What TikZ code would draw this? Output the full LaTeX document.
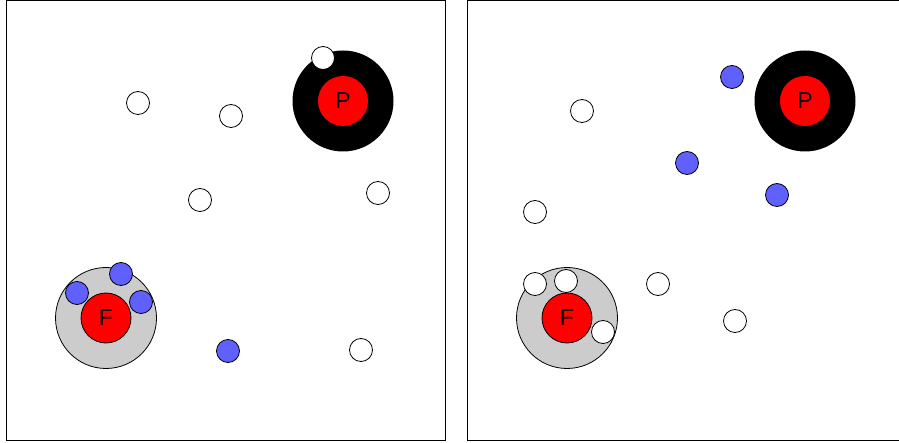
\documentclass[tikz,border=0pt]{standalone}
\usepackage{fontspec}
\setmainfont{Liberation Sans}
\definecolor{bluep}{HTML}{6060FF}
\definecolor{greyp}{HTML}{CCCCCC}
\begin{document}
\begin{tikzpicture}[x=1pt,y=-1pt,
  panel/.style={draw=black,line width=1pt,fill=white},
  wpart/.style={circle,draw=black,line width=0.8pt,fill=white,minimum size=23pt,inner sep=0pt},
  bpart/.style={circle,draw=black,line width=0.8pt,fill=bluep,minimum size=23pt,inner sep=0pt},
  pring/.style={circle,fill=black,minimum size=101pt,inner sep=0pt},
  fring/.style={circle,draw=black,line width=0.8pt,fill=greyp,minimum size=101pt,inner sep=0pt},
  core/.style={circle,fill=red,minimum size=50pt,inner sep=0pt,font=\fontsize{23}{23}\selectfont},
  fcore/.style={core,draw=black,line width=0.8pt}]
\useasboundingbox (0,0) rectangle (899,443);
\clip (0,0) rectangle (899,443);
\fill[white] (0,0) rectangle (899,443);
% panels
\node[panel,rectangle,minimum width=439pt,minimum height=439pt,inner sep=0pt,anchor=north west] (panelA) at (5.5,0.5) {};
\node[panel,rectangle,minimum width=445pt,minimum height=439pt,inner sep=0pt,anchor=north west] (panelB) at (467,0.5) {};
% ---------- left panel ----------
\node[pring] (pA) at (343,101) {};
\node[core] (pAc) at (343,101) {P};
\node[wpart] (wA0) at (323,58) {};
\node[wpart] (wA1) at (138,103) {};
\node[wpart] (wA2) at (231,116) {};
\node[wpart] (wA3) at (200,200) {};
\node[wpart] (wA4) at (378,193) {};
\node[wpart] (wA5) at (361,350) {};
\node[fring] (fA) at (106,318) {};
\node[fcore] (fAc) at (106,318) {F};
\node[bpart] (bA1) at (77,293) {};
\node[bpart] (bA2) at (121,274) {};
\node[bpart] (bA3) at (141,302) {};
\node[bpart] (bA4) at (228,351) {};
% ---------- right panel ----------
\node[pring] (pB) at (805,101) {};
\node[core] (pBc) at (805,101) {P};
\node[bpart] (bB1) at (732,77) {};
\node[bpart] (bB2) at (687,163) {};
\node[bpart] (bB3) at (777,195) {};
\node[wpart] (wB1) at (582,111) {};
\node[wpart] (wB2) at (535,212) {};
\node[wpart] (wB3) at (658,284) {};
\node[wpart] (wB4) at (735,321) {};
\node[fring] (fB) at (567,318) {};
\node[fcore] (fBc) at (567,318) {F};
\node[wpart] (wB5) at (535,284) {};
\node[wpart] (wB6) at (566,281) {};
\node[wpart] (wB7) at (603,332) {};
\end{tikzpicture}
\end{document}
